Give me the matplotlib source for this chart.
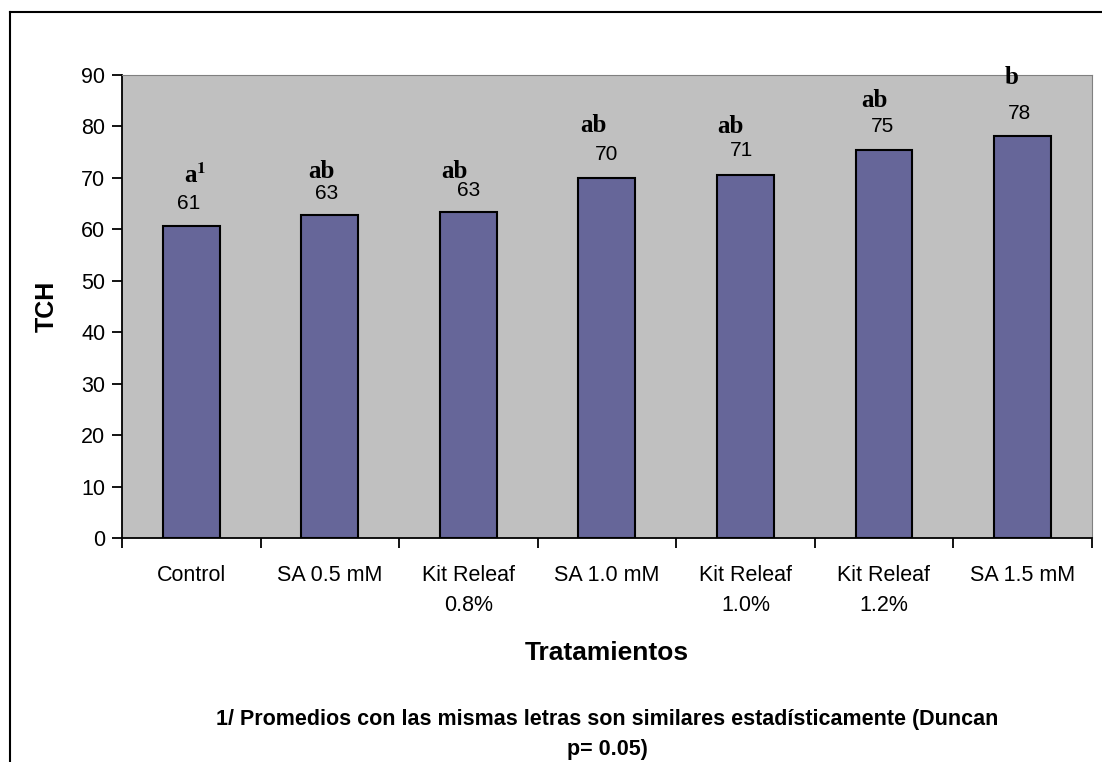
import matplotlib.pyplot as plt
import numpy as np

plt.rcParams['font.family'] = ['Liberation Sans', 'DejaVu Sans']
plt.rcParams['mathtext.fontset'] = 'stix'

categorias = ["Control", "SA 0.5 mM", "Kit Releaf\n0.8%", "SA 1.0 mM",
              "Kit Releaf\n1.0%", "Kit Releaf\n1.2%", "SA 1.5 mM"]
tch = [60.6, 62.7, 63.3, 70.0, 70.6, 75.5, 78.2]
etiquetas = ["61", "63", "63", "70", "71", "75", "78"]
letras = [r"a$^\mathbf{1}$", "ab", "ab", "ab", "ab", "ab", "b"]

# label placement (offsets from bar, in data units)
val_dx = [-0.02, -0.02, 0.0, 0.0, -0.03, -0.01, -0.02]
val_dy = [4.5, 4.3, 4.2, 4.5, 4.8, 4.4, 4.4]
let_dx = [0.03, -0.06, -0.10, -0.10, -0.11, -0.07, -0.08]
let_dy = [9.8, 8.5, 8.0, 10.1, 9.3, 9.5, 11.4]

fig = plt.figure(figsize=(11.02, 7.62), dpi=100)
ax = fig.add_axes([0.1107, 0.294, 0.88, 0.6076])

x = np.arange(len(categorias))
ax.bar(x, tch, width=0.41, color="#666699", edgecolor="black", linewidth=1.5, zorder=2)

for i in range(len(x)):
    ax.text(x[i] + val_dx[i], tch[i] + val_dy[i], etiquetas[i], ha="center", va="center",
            fontsize=15)
    ax.text(x[i] + let_dx[i], tch[i] + let_dy[i], letras[i], ha="center", va="center",
            fontsize=18, fontweight="bold", family="Liberation Serif")

ax.set_facecolor("#C0C0C0")
ax.set_xlim(-0.5, len(x) - 0.5)
ax.set_ylim(0, 90)
ax.set_yticks(range(0, 91, 10))
ax.set_xticks(x)
ax.set_xticklabels(categorias, fontsize=15.5, linespacing=1.55)
ax.set_xticks(np.arange(-0.5, len(x), 1), minor=True)
ax.tick_params(axis="x", which="major", length=0, pad=19.5)
ax.tick_params(axis="x", which="minor", length=7, width=1.3, direction="out")
ax.tick_params(axis="y", length=7, width=1.3, labelsize=15.5, pad=5)

ax.spines["left"].set_linewidth(1.3)
ax.spines["bottom"].set_linewidth(1.3)
ax.spines["top"].set_color("#808080")
ax.spines["right"].set_color("#808080")

ax.set_ylabel("TCH", fontsize=18, fontweight="bold", labelpad=16)
ax.set_xlabel("Tratamientos", fontsize=19, fontweight="bold", labelpad=18)

fig.text(0.551, 0.036,
         "1/ Promedios con las mismas letras son similares estadísticamente (Duncan\np= 0.05)",
         ha="center", va="center", fontsize=15.5, fontweight="bold", linespacing=1.6)

# outer chart border (top and left)
fig.add_artist(plt.Line2D([0.009, 0.009], [0.0, 0.984], color="black", linewidth=1.5,
                          transform=fig.transFigure))
fig.add_artist(plt.Line2D([0.009, 1.0], [0.984, 0.984], color="black", linewidth=1.5,
                          transform=fig.transFigure))

fig.savefig("out.png", dpi=100)
